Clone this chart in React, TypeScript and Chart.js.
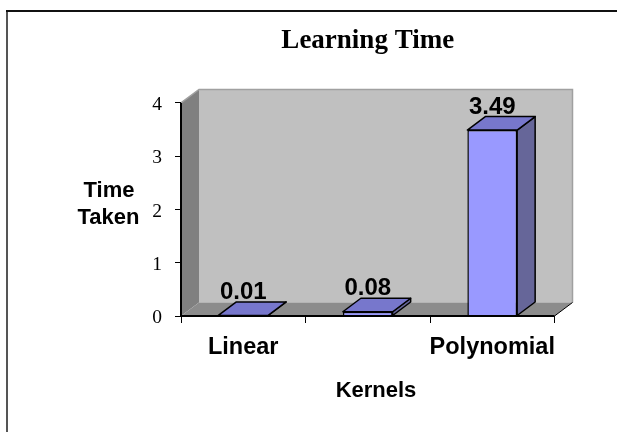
import React, { useEffect, useRef } from "react";
import { Chart, registerables } from "chart.js";

Chart.register(...registerables);

const categories = ["Linear", "", "Polynomial"];
const learningTime = [0.01, 0.08, 3.49];
const yTicks = [0, 1, 2, 3, 4];

const SANS = '"Liberation Sans", Arial, sans-serif';
const SERIF = '"Liberation Serif", "Times New Roman", serif';
const DEPTH_X = 18;
const DEPTH_Y = 13.5;

const chart3d = {
  id: "chart3d",
  beforeDraw(chart: any) {
    const { ctx, chartArea: a, width, height } = chart;
    ctx.save();
    ctx.lineWidth = 2;
    ctx.strokeStyle = "#111111";
    ctx.beginPath();
    ctx.moveTo(width, 11);
    ctx.lineTo(6, 11);
    ctx.stroke();
    ctx.strokeStyle = "#555555";
    ctx.beginPath();
    ctx.moveTo(7, 12);
    ctx.lineTo(7, height);
    ctx.stroke();
    const poly = (pts: number[][], fill: string) => {
      ctx.fillStyle = fill;
      ctx.beginPath();
      pts.forEach((p, i) => (i ? ctx.lineTo(p[0], p[1]) : ctx.moveTo(p[0], p[1])));
      ctx.closePath();
      ctx.fill();
    };
    const bx = a.left + DEPTH_X, tx = a.right + DEPTH_X;
    const by = a.bottom - DEPTH_Y, ty = a.top - DEPTH_Y;
    poly([[bx, ty], [tx, ty], [tx, by], [bx, by]], "#c0c0c0");
    poly([[a.left, a.top], [bx, ty], [bx, by], [a.left, a.bottom]], "#808080");
    poly([[a.left, a.bottom], [bx, by], [tx, by], [a.right, a.bottom]], "#8c8c8c");
    ctx.strokeStyle = "#a0a0a0";
    ctx.lineWidth = 1.5;
    ctx.beginPath();
    ctx.moveTo(a.left, a.top);
    ctx.lineTo(bx, ty);
    ctx.lineTo(tx, ty);
    ctx.lineTo(tx, by);
    ctx.stroke();
    ctx.strokeStyle = "#000";
    ctx.lineWidth = 1;
    ctx.beginPath();
    ctx.moveTo(a.right, a.bottom);
    ctx.lineTo(tx, by);
    ctx.stroke();
    ctx.restore();
  },
  afterDatasetsDraw(chart: any) {
    const { ctx, chartArea: a } = chart;
    const meta = chart.getDatasetMeta(0);
    ctx.save();
    ctx.strokeStyle = "#000";
    ctx.lineWidth = 1.5;
    ctx.lineJoin = "round";
    meta.data.forEach((bar: any, i: number) => {
      const p = bar.getProps(["x", "y", "base", "width"], true);
      const l = p.x - p.width / 2, r = p.x + p.width / 2;
      const face = (pts: number[][], fill: string) => {
        ctx.fillStyle = fill;
        ctx.beginPath();
        pts.forEach((q, k) => (k ? ctx.lineTo(q[0], q[1]) : ctx.moveTo(q[0], q[1])));
        ctx.closePath();
        ctx.fill();
        ctx.stroke();
      };
      face([[r, p.y], [r + DEPTH_X, p.y - DEPTH_Y], [r + DEPTH_X, p.base - DEPTH_Y], [r, p.base]], "#666699");
      face([[l, p.y], [l + DEPTH_X, p.y - DEPTH_Y], [r + DEPTH_X, p.y - DEPTH_Y], [r, p.y]], "#7777cc");
      ctx.fillStyle = "#000";
      ctx.font = `bold 24px ${SANS}`;
      ctx.textAlign = "center";
      ctx.textBaseline = "alphabetic";
      ctx.fillText(learningTime[i].toFixed(2), p.x, p.y - DEPTH_Y - 3);
    });
    ctx.strokeStyle = "#000";
    ctx.lineWidth = 2;
    ctx.beginPath();
    ctx.moveTo(a.left, a.top);
    ctx.lineTo(a.left, a.bottom);
    ctx.lineTo(a.right, a.bottom);
    ctx.stroke();
    ctx.fillStyle = "#000";
    ctx.font = `bold 22px ${SANS}`;
    ctx.textAlign = "center";
    ctx.fillText("Time", 109, 197);
    ctx.fillText("Taken", 108.5, 224);
    ctx.fillText("Kernels", 376, 397);
    ctx.restore();
  },
};

export default function App() {
  const ref = useRef<HTMLCanvasElement>(null);
  useEffect(() => {
    const chart = new Chart(ref.current!, {
      type: "bar",
      data: {
        labels: categories,
        datasets: [
          {
            data: learningTime,
            backgroundColor: "#9999ff",
            borderColor: "#000",
            borderWidth: 1.5,
            barPercentage: 0.4,
            categoryPercentage: 1,
          },
        ],
      },
      plugins: [chart3d],
      options: {
        responsive: false,
        animation: false,
        layout: { padding: { top: 0, right: 62.5, bottom: 0, left: 0 } },
        plugins: {
          legend: { display: false },
          tooltip: { enabled: false },
          title: {
            display: true,
            text: "Learning Time",
            color: "#000",
            fullSize: false,
            font: { family: SERIF, size: 27, weight: "bold" },
            padding: { top: 25, bottom: 45.5 },
          },
        },
        scales: {
          x: {
            offset: true,
            grid: { display: true, drawOnChartArea: false, tickLength: 7, tickColor: "#000" },
            border: { display: false },
            ticks: { color: "#000", font: { family: SANS, size: 23.5, weight: "bold" }, padding: 10, maxRotation: 0, autoSkip: false },
            afterFit: (s: any) => { s.height = 116; },
          },
          y: {
            min: 0,
            max: 4,
            afterBuildTicks: (s: any) => { s.ticks = yTicks.map((value) => ({ value })); },
            grid: { drawOnChartArea: false, tickLength: 6, tickColor: "#000" },
            border: { display: false },
            ticks: { color: "#000", font: { family: SERIF, size: 19.5 }, padding: 13, labelOffset: 2 } as any,
            afterFit: (s: any) => { s.width = 181; },
          },
        },
      },
    });
    return () => chart.destroy();
  }, []);
  return (
    <canvas
      ref={ref}
      width={617}
      height={432}
      style={{ position: "absolute", left: 0, top: 0, display: "block", background: "#fff" }}
    />
  );
}
